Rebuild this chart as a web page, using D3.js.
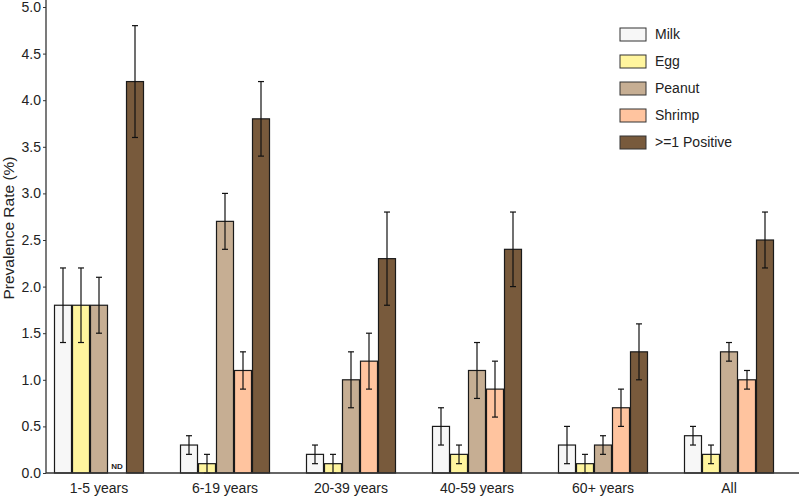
<!DOCTYPE html>
<html><head><meta charset="utf-8">
<script src="https://cdn.jsdelivr.net/npm/d3@7"></script>
<style>body{margin:0;background:#fff}svg{display:block;font-family:"Liberation Sans",Arial,sans-serif}</style>
</head><body><svg id="c" width="800" height="500"></svg>
<script>
const categories = ["1-5 years","6-19 years","20-39 years","40-59 years","60+ years","All"];
const seriesNames = ["Milk","Egg","Peanut","Shrimp",">=1 Positive"];
const seriesColors = ["#f7f7f7","#fff59e","#c6ae93","#ffc49f","#785a3c"];
const milk     = [1.8,0.3,0.2,0.5,0.3,0.4];
const egg      = [1.8,0.1,0.1,0.2,0.1,0.2];
const peanut   = [1.8,2.7,1.0,1.1,0.3,1.3];
const shrimp   = [null,1.1,1.2,0.9,0.7,1.0];
const positive = [4.2,3.8,2.3,2.4,1.3,2.5];
const milkLo = [1.4,0.2,0.1,0.3,0.1,0.3], milkHi = [2.2,0.4,0.3,0.7,0.5,0.5];
const eggLo = [1.4,0.0,0.0,0.1,0.0,0.1], eggHi = [2.2,0.2,0.2,0.3,0.2,0.3];
const peanutLo = [1.5,2.4,0.7,0.8,0.2,1.2], peanutHi = [2.1,3.0,1.3,1.4,0.4,1.4];
const shrimpLo = [null,0.9,0.9,0.6,0.5,0.9], shrimpHi = [null,1.3,1.5,1.2,0.9,1.1];
const posLo = [3.6,3.4,1.8,2.0,1.0,2.2], posHi = [4.8,4.2,2.8,2.8,1.6,2.8];
const yTicks = [0,0.5,1,1.5,2,2.5,3,3.5,4,4.5,5];

const values = [milk,egg,peanut,shrimp,positive];
const lows = [milkLo,eggLo,peanutLo,shrimpLo,posLo];
const highs = [milkHi,eggHi,peanutHi,shrimpHi,posHi];

const svg = d3.select("#c");
const mLeft = 46, mBottom = 473, mTop = 7;
const x0 = d3.scaleBand().domain(categories).range([mLeft, 782]).paddingInner(0.2857).paddingOuter(0.0635);
const x1 = d3.scaleBand().domain(seriesNames).range([0, x0.bandwidth()]);
const y = d3.scaleLinear().domain([0,5]).range([mBottom, mTop]);

const data = [];
categories.forEach((c,i)=>seriesNames.forEach((s,j)=>{
  data.push({c, s, j, v: values[j][i], lo: lows[j][i], hi: highs[j][i]});
}));
const g = svg.append("g");
g.selectAll("rect.bar").data(data.filter(d=>d.v!=null)).join("rect")
  .attr("x", d=>x0(d.c)+x1(d.s)+0.5)
  .attr("y", d=>y(d.v))
  .attr("width", x1.bandwidth()-1)
  .attr("height", d=>y(0)-y(d.v))
  .attr("fill", d=>seriesColors[d.j])
  .attr("stroke", "#1a1a1a").attr("stroke-width", 1.2);

const cx = d=>x0(d.c)+x1(d.s)+x1.bandwidth()/2;
const eb = g.selectAll("g.eb").data(data.filter(d=>d.v!=null)).join("g").attr("stroke","#111").attr("stroke-width",1.2);
eb.append("line").attr("x1",cx).attr("x2",cx).attr("y1",d=>y(d.lo)).attr("y2",d=>y(d.hi));
eb.append("line").attr("x1",d=>cx(d)-3).attr("x2",d=>cx(d)+3).attr("y1",d=>y(d.lo)).attr("y2",d=>y(d.lo));
eb.append("line").attr("x1",d=>cx(d)-3).attr("x2",d=>cx(d)+3).attr("y1",d=>y(d.hi)).attr("y2",d=>y(d.hi));

g.selectAll("text.nd").data(data.filter(d=>d.v==null)).join("text")
  .attr("x", cx).attr("y", mBottom-4)
  .attr("text-anchor","middle").attr("font-size",8).attr("font-weight","bold").attr("fill","#222").text("ND");

const ya = svg.append("g").attr("transform",`translate(${mLeft},0)`)
  .call(d3.axisLeft(y).tickValues(yTicks).tickFormat(d3.format(".1f")).tickSize(3).tickPadding(2));
ya.select(".domain").attr("stroke","#333").attr("stroke-width",1.3).attr("d",`M0,0V${mBottom}`);
ya.selectAll(".tick line").attr("stroke","#333");
ya.selectAll("text").attr("font-size",14).attr("fill","#222").attr("font-family","Liberation Sans, Arial, sans-serif");

const xa = svg.append("g").attr("transform",`translate(0,${mBottom})`)
  .call(d3.axisBottom(x0).tickSize(0).tickPadding(10));
xa.select(".domain").attr("stroke","#333").attr("stroke-width",1.3).attr("d",`M${mLeft},0H799`);
xa.selectAll("text").attr("font-size",14).attr("fill","#222").attr("font-family","Liberation Sans, Arial, sans-serif");

svg.append("text").attr("transform",`translate(9,228) rotate(-90)`)
  .attr("text-anchor","middle").attr("dy","0.35em").attr("font-size",15.5).attr("fill","#222").text("Prevalence Rate (%)");

const lg = svg.append("g").attr("transform","translate(620,28)");
const li = lg.selectAll("g").data(seriesNames).join("g").attr("transform",(d,i)=>`translate(0,${i*27})`);
li.append("rect").attr("width",26).attr("height",13).attr("fill",(d,i)=>seriesColors[i]).attr("stroke","#333").attr("stroke-width",1);
li.append("text").attr("x",35).attr("y",6.5).attr("dy","0.35em").attr("font-size",14).attr("fill","#222").text(d=>d);
</script></body></html>
